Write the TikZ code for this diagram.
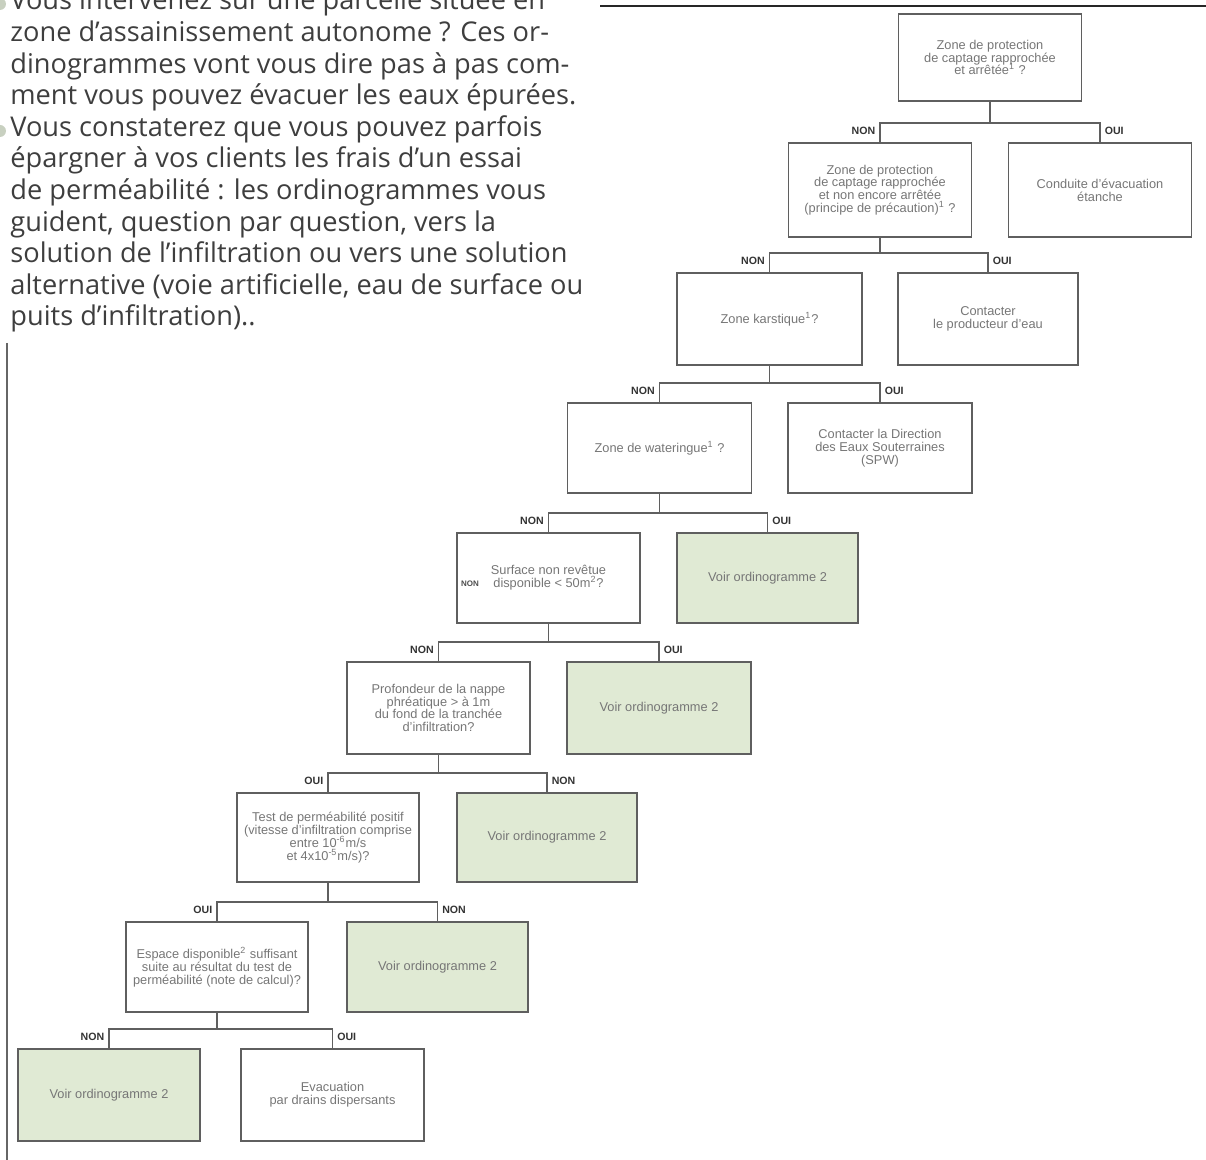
\documentclass[tikz,border=0pt]{standalone}
\usepackage{fontspec}
\setmainfont{Open Sans}
\newfontfamily\boxfont{Liberation Sans}
\usepackage{tikz}
\definecolor{boxline}{RGB}{95,95,95}
\definecolor{boxtext}{RGB}{118,118,118}
\definecolor{voirfill}{RGB}{224,234,212}
\definecolor{bodytext}{RGB}{62,62,62}
\definecolor{dotgray}{RGB}{200,208,192}
\newcommand{\boxtextfont}{\boxfont\fontsize{6.4}{6.4}\selectfont\lineskiplimit-10pt\relax}
\tikzset{
	box/.style={draw=boxline, line width=.8pt, inner sep=0pt, align=center, text=boxtext, font=\boxtextfont},
	voir/.style={box, fill=voirfill},
	link/.style={draw=boxline, line width=.8pt},
	answer/.style={font=\boxfont\bfseries\fontsize{5.3}{5.3}\selectfont, text=black!80, inner sep=0pt},
	para/.style={font=\fontsize{13.6}{15.8}\selectfont, text=bodytext, inner sep=0pt, anchor=base west}
}
\newcommand{\fork}[5]{
	\draw[link](#2.north)--++(0, -19)node[answer, anchor=east, xshift=-2pt, yshift=-4pt]{#4}-|(#1.south);
	\draw[link](#3.north)--++(0, -19)node[answer, anchor=west, xshift=2pt, yshift=-4pt]{#5}-|(#1.south);
}

\begin{document}
\begin{tikzpicture}[x=.5pt, y=-.5pt]
	\useasboundingbox(0, 0)rectangle(1206, 1160);
	\foreach \txt [count=\i] in {
		{Vous intervenez sur une parcelle située en},
		{zone d’assainissement autonome ? Ces or-},
		{dinogrammes vont vous dire pas à pas com-},
		{ment vous pouvez évacuer les eaux épurées.},
		{Vous constaterez que vous pouvez parfois},
		{épargner à vos clients les frais d’un essai},
		{de perméabilité : les ordinogrammes vous},
		{guident, question par question, vers la},
		{solution de l’infiltration ou vers une solution},
		{alternative (voie artificielle, eau de surface ou},
		{puits d’infiltration)..}}
		\node[para](line\i) at (10, {10+31.6*(\i-1)}){\txt};
	\fill[dotgray](0, 4)circle(6);
	\fill[dotgray](0, 131)circle(6);
	\draw[line width=.8pt, black!85](600, 6)--(1206, 6);
	\draw[line width=.8pt, black!60](7, 343)--(7, 1160);

	\node[box, minimum width=91.5pt, minimum height=43.5pt](arretee) at (990, 57.5){Zone de protection\\de captage rapprochée\\et arrêtée\textsuperscript{1} ?};
	\node[box, minimum width=91.5pt, minimum height=47pt](precaution) at (880, 190){Zone de protection\\de captage rapprochée\\et non encore arrêtée\\(principe de précaution)\textsuperscript{1} ?};
	\node[box, minimum width=91.5pt, minimum height=47pt](etanche) at (1100, 190){Conduite d’évacuation\\étanche};
	\node[box, minimum width=92.5pt, minimum height=46pt](karst) at (769.5, 319){Zone karstique\textsuperscript{1}?};
	\node[box, minimum width=90pt, minimum height=46pt](producteur) at (988, 319){Contacter\\le producteur d’eau};
	\node[box, minimum width=92pt, minimum height=45pt](wateringue) at (659.5, 448){Zone de wateringue\textsuperscript{1} ?};
	\node[box, minimum width=92pt, minimum height=45pt](direction) at (880, 448){Contacter la Direction\\des Eaux Souterraines\\(SPW)};
	\node[box, minimum width=91.5pt, minimum height=45pt](surface) at (548.5, 578){Surface non revêtue\\disponible < 50m\textsuperscript{2}?};
	\node[answer, font=\boxfont\bfseries\fontsize{4}{4}\selectfont, text=black!70](straynon) at (470, 584){NON};
	\node[voir, minimum width=90.5pt, minimum height=45pt](voirA) at (767.5, 578){Voir ordinogramme 2};
	\node[box, minimum width=91.5pt, minimum height=46pt](nappe) at (438.5, 708){Profondeur de la nappe\\phréatique > à 1m\\du fond de la tranchée\\d’infiltration?};
	\node[voir, minimum width=92pt, minimum height=46pt](voirB) at (659, 708){Voir ordinogramme 2};
	\node[box, minimum width=91pt, minimum height=44.5pt](test) at (328, 837.5){Test de perméabilité positif\\(vitesse d’infiltration comprise\\entre 10\textsuperscript{-6}m/s\\et 4x10\textsuperscript{-5}m/s)?};
	\node[voir, minimum width=90pt, minimum height=44.5pt](voirC) at (547, 837.5){Voir ordinogramme 2};
	\node[box, minimum width=91pt, minimum height=45pt](espace) at (217, 967){Espace disponible\textsuperscript{2} suffisant\\suite au résultat du test de\\perméabilité (note de calcul)?};
	\node[voir, minimum width=90.5pt, minimum height=45pt](voirD) at (437.5, 967){Voir ordinogramme 2};
	\node[voir, minimum width=91pt, minimum height=46pt](voirE) at (109, 1095){Voir ordinogramme 2};
	\node[box, minimum width=91.5pt, minimum height=46pt](drains) at (332.5, 1095){Evacuation\\par drains dispersants};

	\fork{arretee}{precaution}{etanche}{NON}{OUI}
	\fork{precaution}{karst}{producteur}{NON}{OUI}
	\fork{karst}{wateringue}{direction}{NON}{OUI}
	\fork{wateringue}{surface}{voirA}{NON}{OUI}
	\fork{surface}{nappe}{voirB}{NON}{OUI}
	\fork{nappe}{test}{voirC}{OUI}{NON}
	\fork{test}{espace}{voirD}{OUI}{NON}
	\fork{espace}{voirE}{drains}{NON}{OUI}
\end{tikzpicture}
\end{document}
